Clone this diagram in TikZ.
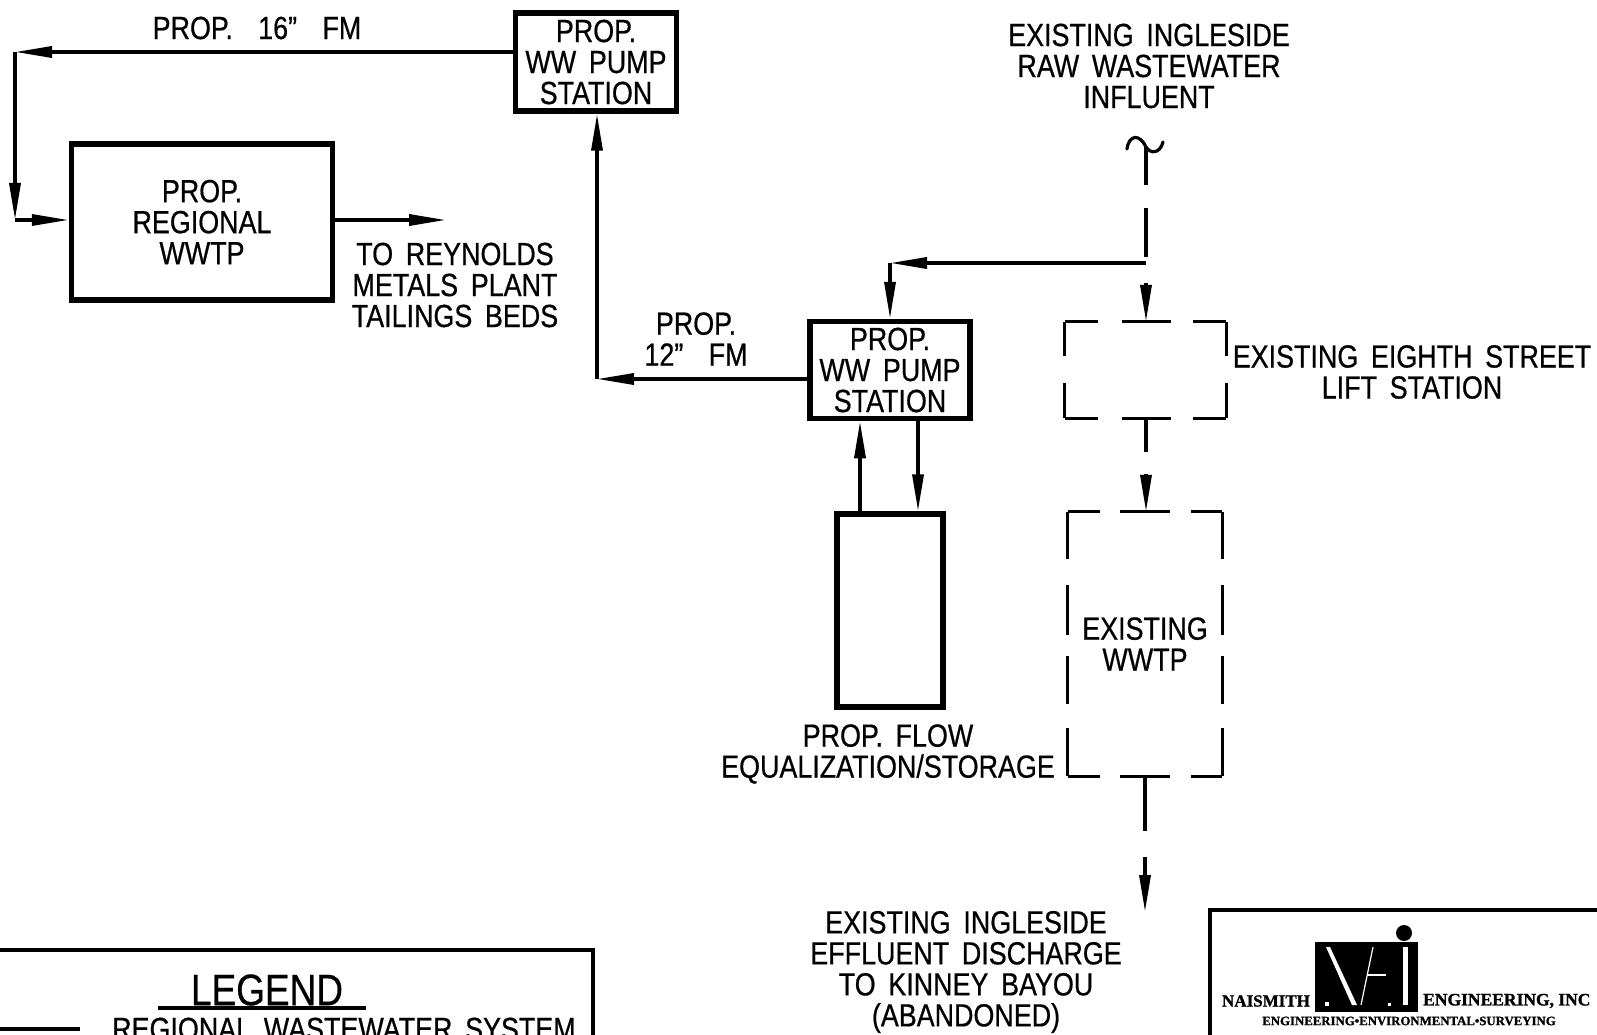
\documentclass[tikz,border=0pt]{standalone}
\usepackage{fontspec}
\setmainfont{Liberation Sans}[FakeStretch=0.84,WordSpace=1.7,FakeBold=0.6]
\newfontfamily\logofont{Liberation Serif}[FakeBold=1.2]
\usetikzlibrary{arrows.meta,calc,positioning}
\definecolor{ink}{HTML}{000000}
\tikzset{
  basebox/.style={draw=ink,fill=white,align=center,inner sep=0pt,line width=5.5pt,font=\cadfont},
  ghostbox/.style={align=center,inner sep=0pt,font=\cadfont},
  label/.style={align=center,inner sep=0pt,font=\cadfont,text=ink},
  arrow/.style={-{Triangle[length=37pt,width=11pt]},line width=3.4pt,draw=ink},
  plain/.style={line width=3.2pt,draw=ink},
  ghost/.style={line width=2.8pt,draw=ink},
  legendline/.style={line width=3.6pt,draw=ink}
}
\newcommand{\cadfont}{\fontsize{32}{31}\selectfont}
\begin{document}
\begin{tikzpicture}[x=1pt,y=-1pt]
  \useasboundingbox (0,0) rectangle (1597,1035);
  \clip (0,0) rectangle (1597,1035);
  \fill[white] (0,0) rectangle (1597,1035);

  % proposed units
  \node[basebox,minimum width=161pt,minimum height=98pt] (pumpA) at (596,62) {PROP.\\WW PUMP\\STATION};
  \node[basebox,minimum width=261pt,minimum height=156pt] (wwtp) at (202,222) {PROP.\\REGIONAL\\WWTP};
  \node[basebox,minimum width=160pt,minimum height=97pt] (pumpB) at (890,370) {PROP.\\WW PUMP\\STATION};
  \node[basebox,minimum width=106pt,minimum height=193pt] (tank) at (890,610.5) {};

  % existing units, outlines drawn below
  \node[ghostbox,minimum width=161pt,minimum height=96pt] (lift) at (1145.5,370) {};
  \node[ghostbox,minimum width=154pt,minimum height=264pt] (exist) at (1145,644) {EXISTING\\WWTP};

  % labels
  \node[label] (fmA) at (257,28) {PROP.\ \ 16"\ \ FM};
  \node[label] (tailings) at (455,285) {TO REYNOLDS\\METALS PLANT\\TAILINGS BEDS};
  \node[label] (fmB) at (696,339) {PROP.\\12"\ \ FM};
  \node[label] (influent) at (1149,66) {EXISTING INGLESIDE\\RAW WASTEWATER\\INFLUENT};
  \node[label] (liftlbl) at (1412,372) {EXISTING EIGHTH STREET\\LIFT STATION};
  \node[label] (storage) at (888,754) {PROP. FLOW\\EQUALIZATION/STORAGE};
  \node[label] (effluent) at (966,972) {EXISTING INGLESIDE\\EFFLUENT DISCHARGE\\TO KINNEY BAYOU\\(ABANDONED)};

  % dashed outlines
  \foreach \side/\from/\to in {a/north west/north east,b/south west/south east}
    \draw[ghost,dash pattern=on 33pt off 24pt on 49pt off 22pt on 33pt] (lift.\from) -- (lift.\to);
  \foreach \side in {west,east}
    \draw[ghost,dash pattern=on 34pt off 27pt on 35pt] (lift.north \side) -- (lift.south \side);
  \foreach \side/\from/\to in {a/north west/north east,b/south west/south east}
    \draw[ghost,dash pattern=on 32pt off 20pt on 50pt off 21pt on 31pt] (exist.\from) -- (exist.\to);
  \foreach \side in {west,east}
    \draw[ghost,dash pattern=on 47pt off 26pt on 50pt off 21pt on 48pt off 24pt on 48pt] (exist.north \side) -- (exist.south \side);

  % regional loop
  \coordinate (cornerA) at (15,52);
  \coordinate (cornerB) at (15,220);
  \coordinate (outA) at (446,220);
  \draw[arrow] (pumpA.west |- cornerA) -- (cornerA);
  \draw[arrow] (cornerA) -- (cornerB);
  \draw[arrow] (cornerB) -- (cornerB -| wwtp.west);
  \draw[arrow] (wwtp.east |- outA) -- (outA);

  % 12 inch force main
  \coordinate (cornerC) at (597,379);
  \draw[arrow] (pumpB.west |- cornerC) -- (cornerC);
  \draw[arrow] (cornerC) -- (cornerC |- pumpA.south);

  % tank connections
  \coordinate (tankup) at (860,513);
  \coordinate (tankdn) at (918,419);
  \draw[arrow] (tankup) -- (tankup |- pumpB.south);
  \draw[arrow] (tankdn) -- (tankdn |- tank.north);

  % influent
  \coordinate (curlL) at (1127,149);
  \coordinate (curlC) at (1146,147);
  \coordinate (curlR) at (1163,142);
  \coordinate (stemA) at (1146,185);
  \coordinate (stemB) at (1146,208);
  \coordinate (stemC) at (1146,257);
  \coordinate (split) at (1146,263);
  \coordinate (branch) at (890,263);
  \draw[plain,line cap=round] (curlL) .. controls (1129,134) and (1140,134) .. (curlC) .. controls (1150,154) and (1160,154) .. (curlR);
  \draw[plain] (curlC) -- (stemA);
  \draw[plain] (stemB) -- (stemC);
  \draw[arrow] (split) -- (branch);
  \draw[arrow] (branch) -- (branch |- pumpB.north);
  \coordinate (liftin) at (1146,283);
  \draw[arrow] (liftin) -- (liftin |- lift.north);

  % lift station to plant
  \coordinate (liftout) at (1146,452);
  \coordinate (existin) at (1146,474);
  \draw[plain] (liftout |- lift.south) -- (liftout);
  \draw[arrow] (existin) -- (existin |- exist.north);

  % discharge
  \coordinate (dropA) at (1145,831);
  \coordinate (dropB) at (1145,857);
  \coordinate (dropC) at (1145,912);
  \draw[plain] (dropA |- exist.south) -- (dropA);
  \draw[arrow] (dropB) -- (dropC);

  % legend
  \node[draw=ink,line width=3.6pt,minimum width=620pt,minimum height=200pt,inner sep=0pt,anchor=north east] (legend) at (595,948) {};
  \node[inner sep=0pt,font=\fontsize{44}{44}\selectfont] (legendtitle) at (267,990) {LEGEND};
  \coordinate (ulA) at (158,1008);
  \coordinate (ulB) at (366,1008);
  \draw[legendline] (ulA) -- (ulB);
  \coordinate (keyA) at (0,1029);
  \coordinate (keyB) at (80,1029);
  \draw[legendline] (keyA) -- (keyB);
  \node[label,anchor=base west] (keytext) at (112,1040) {REGIONAL WASTEWATER SYSTEM};

  % title block
  \node[draw=ink,line width=3.6pt,minimum width=420pt,minimum height=200pt,inner sep=0pt,anchor=north west] (block) at (1208,908) {};
  \fill[ink] (1315,942) rectangle (1418,1012);
  \fill[ink] (1404,933) circle (8pt);
  \fill[white] (1326,947) -- (1330,947) -- (1357,1005) -- (1352,1005) -- cycle;
  \draw[white,line width=1.2pt] (1361,1005) -- (1373,947);
  \draw[white,line width=1.2pt] (1367,975) -- (1386,975);
  \fill[white] (1403,947) rectangle (1408,1005);
  \fill[white] (1325,1002) rectangle (1329,1006);
  \fill[white] (1388,1003) rectangle (1391,1006);
  \node[inner sep=0pt,font=\logofont\bfseries\fontsize{17}{17}\selectfont] (naismith) at (1266,1001) {NAISMITH};
  \node[inner sep=0pt,anchor=west,font=\logofont\bfseries\fontsize{17.5}{17.5}\selectfont] (engineering) at (1423,1001) {ENGINEERING, INC};
  \node[inner sep=0pt,font=\logofont\bfseries\fontsize{12.8}{12.8}\selectfont] (services) at (1409,1021) {ENGINEERING•ENVIRONMENTAL•SURVEYING};
\end{tikzpicture}
\end{document}
